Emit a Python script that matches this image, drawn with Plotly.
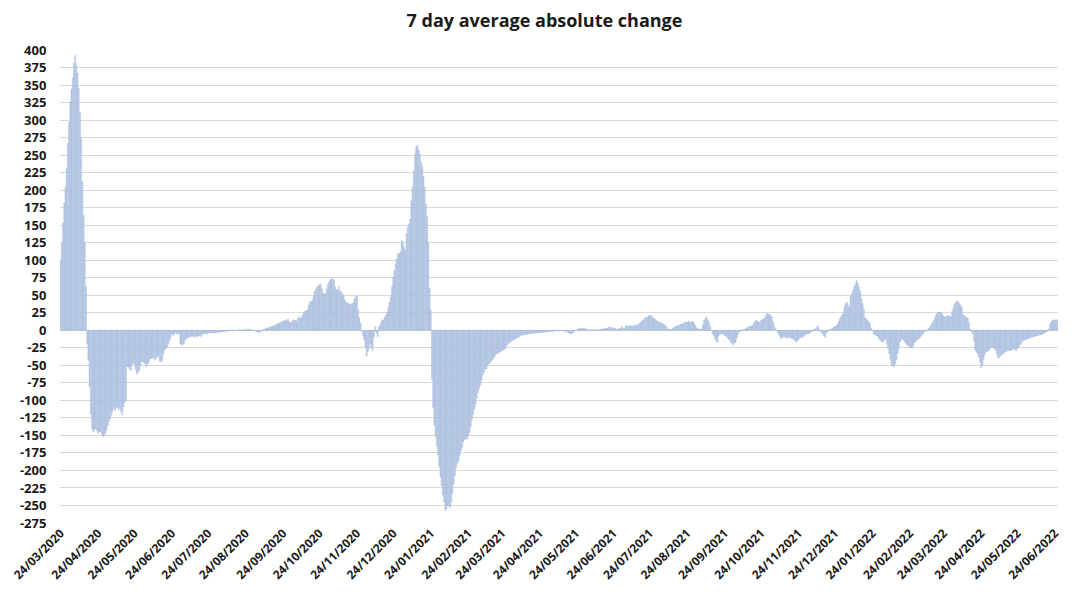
import pandas as pd
import plotly.graph_objects as go

# 7 day average absolute change, daily values
start_2020 = "2020-03-24"
values_2020 = [
    100, 124, 153, 181, 204, 231, 267, 297, 326, 344, 360, 381, 392, 378, 367, 345, 311, 274, 212, 164, 126, 62,
    -20, -43, -81, -120, -140, -145, -142, -140, -143, -147, -145, -144, -148, -152, -150, -147, -142, -136, -130,
    -126, -121, -116, -111, -114, -111, -109, -113, -111, -116, -121, -109, -103, -100,
    -52, -52, -55, -57, -50, -46, -48, -55, -62, -60,
    -57, -50, -44, -45, -46, -48, -52, -48, -45, -41,
    -40, -40, -38, -42, -40, -36, -38, -44, -45, -43,
    -33, -28, -26, -24, -20, -15, -10, -5, -7, -5,
    -3, -5, -5, -5, -19, -21, -20, -19, -14, -12,
    -11, -10, -9, -9, -8, -9, -10, -8, -9, -8,
    -7, -9, -6, -5, -4, -5, -5, -4, -4, -3,
    -4, -4, -3, -4, -3, -3, -2, -3, -2, -2,
    -2, -1, -2, -1, -1, -1, 0, -1, -1, 0,
    0, -1, 0, 1, 0, 0, 1, 0, 1, 1,
    2, 1, 0, 1, 0, -1, -1, -2, -3, -3,
    -2, -1, 0, 1, 2, 3, 3, 4, 4, 5,
    6, 6, 7, 8, 9, 10, 10, 11, 12, 13,
    14, 13, 15, 16, 12,
    10, 12, 15, 14, 14, 13, 16, 19, 17, 18,
    21, 25, 27, 28, 29, 36, 40, 41, 42, 48,
    55, 59, 62, 63, 65, 66, 59, 53, 52, 52,
    59, 66, 69, 72, 74, 73, 71, 62, 58, 57,
    62, 55, 55, 52, 50, 43, 40, 39, 38, 37,
    37, 38, 39, 45, 48, 49, 29, 18, 10, 0,
    -8, -14, -24, -37, -30, -26, -19, -25, -29, -10,
    5, -3, -9, 5, 7, 12, 15, 14, 19, 22,
    25, 33, 40, 48, 62, 76, 85, 95, 102, 109,
    110, 112, 128,
]

start_2021 = "2021-01-01"
values_2021 = [
    124, 118, 114, 138, 147, 152, 159,
    185, 205, 228, 252, 262, 264, 257, 252, 240, 233,
    219, 204, 180, 162, 124, 60, 29, -70, -110, -135,
    -152, -165, -178, -195, -209, -222, -235, -245, -257, -255,
    -250, -251, -253, -245, -232, -219, -207, -196, -190, -186,
    -178, -172, -167, -159, -156, -155, -155, -151, -146, -138,
    -128, -120, -112, -106, -97, -89, -83, -78, -71, -64,
    -60, -55, -55, -51, -48, -46, -44, -42, -40, -37,
    -34, -33, -32, -31, -30, -29, -28, -27, -24, -21,
    -19, -18, -16, -15, -14, -13, -12, -11, -10, -9,
    -7, -7, -7, -6, -6, -6, -5, -5, -5, -5,
    -4, -4, -4, -4, -4, -4, -3, -3, -3, -3,
    -2, -3, -2, -2, -2, -2, -1, -2, -1, -1,
    -1, -1, -1, -1, -1, 0, -1, -2, -1, -2,
    -4, -5, -5, -4, -3, -1, 0, 1, 2, 3,
    2, 3, 2, 3, 2, 1, 1, 0, 1, 0,
    1, 0, 1, 1, 0, 1, 1, 2, 1, 2,
    3, 2, 3, 4, 5, 3, 4, 2, 3, 2,
    1, 2, 3, 2, 5, 3, 2, 5, 7, 6,
    5, 7, 6, 6, 7, 6, 8, 7, 9, 11,
    12, 14, 15, 17, 19, 18, 20, 22, 21, 19,
    18, 16, 15, 13, 12, 11, 11, 10, 9, 8,
    7, 4, 1, 2, 1, 1, 3, 4, 5, 6,
    6, 7, 8, 9, 9, 10, 11, 12, 11, 13,
    12, 11, 13, 12, 9, 6, 3, 1, 2, 1,
    2, 8, 15, 17, 19, 15, 12, 5, 0, -5,
    -8, -12, -15, -17, -8, -6, -5, -4, -6, -7,
    -8, -10, -12, -14, -17, -19, -21, -18, -17, -11,
    -6, -2, -1, 0, 1, 1, 2, 3, 4, 5,
    6, 6, 7, 10, 12, 14, 13, 12, 11, 14,
    15, 16, 17, 21, 24, 23, 23, 21, 19, 12,
    5, 2, 0, -3, -7, -10, -12, -10, -9, -10,
    -10, -11, -10, -10, -11, -12, -12, -15, -17, -15,
    -13, -11, -10, -10, -9, -7, -6, -5, -5, -4,
    -3, -2, -1, 1, 2, 4, 6, 2, 0, -3,
    -5, -8, -10, -4, -2, 1, 0, 2, 3, 4,
    5, 6, 8, 12, 16, 19, 22, 24,
]

start_2022 = "2022-01-01"
values_2022 = [
    34, 38, 40, 36, 33, 48, 52, 57, 62, 66,
    71, 67, 62, 56, 45, 38, 30, 18, 16, 14,
    12, 10, 3, 0, -5, -6, -7, -8, -10, -13,
    -15, -16, -17, -14, -12, -20, -26, -33, -42, -50,
    -51, -52, -48, -42, -33, -26, -16, -13, -12, -14,
    -17, -19, -21, -22, -24, -25, -26, -22, -17, -16,
    -14, -12, -11, -9, -7, -5, -2, -1, 0, 1,
    3, 6, 8, 11, 14, 19, 23, 25, 26, 26,
    25, 23, 20, 19, 19, 20, 21, 20, 19, 27,
    32, 37, 40, 42, 40, 38, 36, 33, 22, 21,
    19, 18, 17, 10, 1, -2, -5, -15, -28, -31,
    -33, -38, -45, -53, -50, -42, -35, -31, -30, -29,
    -27, -24, -24, -24, -26, -29, -34, -40, -38, -36,
    -35, -33, -32, -31, -30, -29, -29, -29, -28, -27,
    -26, -28, -29, -26, -24, -21, -19, -16, -14, -14,
    -13, -12, -12, -11, -10, -10, -9, -9, -8, -8,
    -7, -7, -6, -6, -5, -4, -3, -2, -1, 2,
    9, 12, 14, 15, 15, 14, 15,
]

tick_dates = pd.date_range("2020-03-01", "2022-06-01", freq="MS") + pd.Timedelta(days=23)
tick_labels = [d.strftime("%d/%m/%Y") for d in tick_dates]
y_ticks = list(range(-275, 401, 25))
y_tick_labels = [str(v) for v in y_ticks]

dates = (list(pd.date_range(start_2020, periods=len(values_2020)))
         + list(pd.date_range(start_2021, periods=len(values_2021)))
         + list(pd.date_range(start_2022, periods=len(values_2022))))
values = values_2020 + values_2021 + values_2022

fig = go.Figure(go.Bar(
    x=dates, y=values,
    marker=dict(color="#c9d7ed", line=dict(color="#8aa6d0", width=0.35)),
    hoverinfo="x+y",
))

# page body has an 8px default margin, so the figure is sized/offset to fit the 1081x600 window
fig.update_layout(
    width=1073, height=592,
    paper_bgcolor="white", plot_bgcolor="white",
    margin=dict(l=52, r=23, t=42, b=77, autoexpand=False),
    bargap=0.15,
    showlegend=False,
    title=dict(text="7 day average absolute change", x=0.5, xanchor="center",
               yref="container", y=0.978, yanchor="middle",
               font=dict(family="Open Sans", size=18, color="#1a1a1a", weight="bold")),
    font=dict(family="Open Sans", color="#222222"),
)
fig.update_xaxes(
    type="date", automargin=False, ticklabeloverflow="allow",
    range=[pd.Timestamp("2020-03-23 12:00"), pd.Timestamp("2022-06-26 12:00")],
    tickvals=tick_dates, ticktext=tick_labels, tickangle=-45,
    tickfont=dict(family="Open Sans", size=12, color="#1a1a1a", weight="bold"),
    showgrid=False, showline=False, zeroline=False, ticks="",
)
fig.update_yaxes(
    automargin=False,
    range=[-275, 400], tickvals=y_ticks, ticktext=y_tick_labels,
    tickfont=dict(family="Open Sans", size=13, color="#1a1a1a", weight="bold"),
    showgrid=True, gridcolor="#d9d9d9", gridwidth=1,
    zeroline=False, showline=False,
    ticks="outside", ticklen=10, tickcolor="rgba(0,0,0,0)",
)

fig.write_html("out.html")
